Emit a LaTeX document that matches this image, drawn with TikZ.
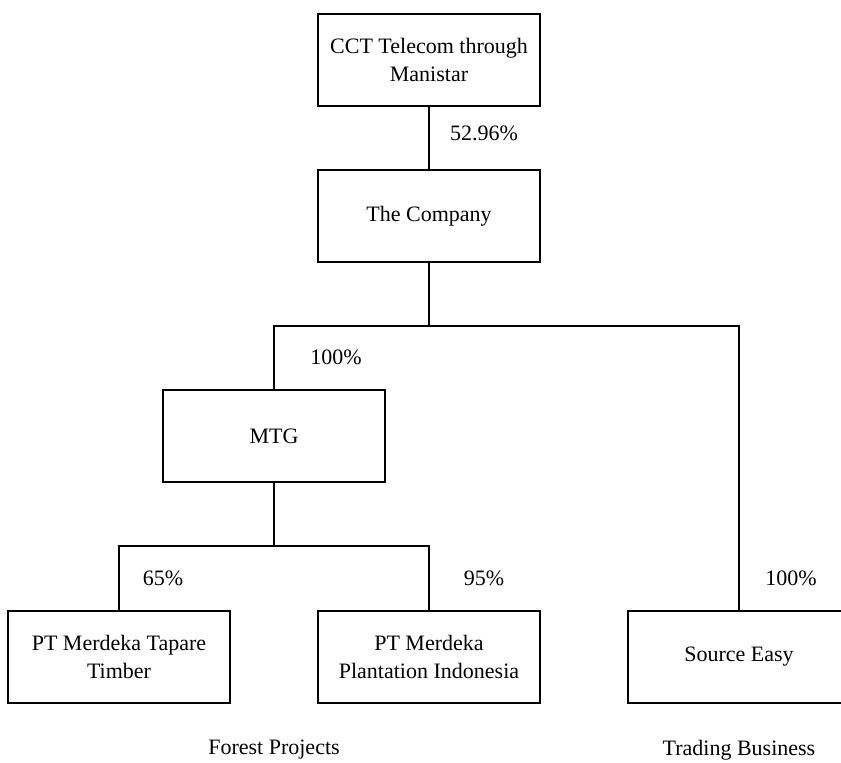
\documentclass[tikz,border=0pt]{standalone}
\usepackage{fontspec}
\setmainfont{Liberation Serif}
\usepackage{tikz}
\usetikzlibrary{positioning}

\begin{document}
\begin{tikzpicture}[
  x=0.5pt, y=-0.5pt,
  entity/.style={draw, line width=0.6pt, minimum width=111pt, minimum height=46pt, inner sep=2pt, align=center, font=\fontsize{11}{13.8}\selectfont},
  share/.style={font=\fontsize{11}{13.8}\selectfont},
  segment/.style={font=\fontsize{11}{13.8}\selectfont},
  link/.style={line width=0.6pt}
]
\useasboundingbox (0,0) rectangle (841,762);

\node[entity] (cct) at (429, 60) {CCT Telecom through\\Manistar};
\node[entity] (company) at (429, 216) {The Company};
\node[entity] (mtg) at (274, 436) {MTG};
\node[entity] (tapare) at (119, 657) {PT Merdeka Tapare\\Timber};
\node[entity] (plantation) at (429, 657) {PT Merdeka\\Plantation Indonesia};
\node[entity] (source) at (739, 657) {Source Easy};

\coordinate (bus1) at (429, 326);
\coordinate (bus2) at (274, 546);

\draw[link] (cct) -- (company);
\draw[link] (company) -- (bus1);
\draw[link] (mtg.north) |- (bus1) -| (source.north);
\draw[link] (mtg) -- (bus2);
\draw[link] (tapare.north) |- (bus2) -| (plantation.north);

\node[share] (pcct) at (484, 133) {52.96\%};
\node[share] (pmtg) at (336, 357) {100\%};
\node[share] (psource) at (791, 578) {100\%};
\node[share] (ptapare) at (163, 578) {65\%};
\node[share] (pplant) at (484, 578) {95\%};

\node[segment] (forest) at (274, 750) {Forest Projects};
\node[segment] (trading) at (739, 750) {Trading Business};
\end{tikzpicture}
\end{document}
